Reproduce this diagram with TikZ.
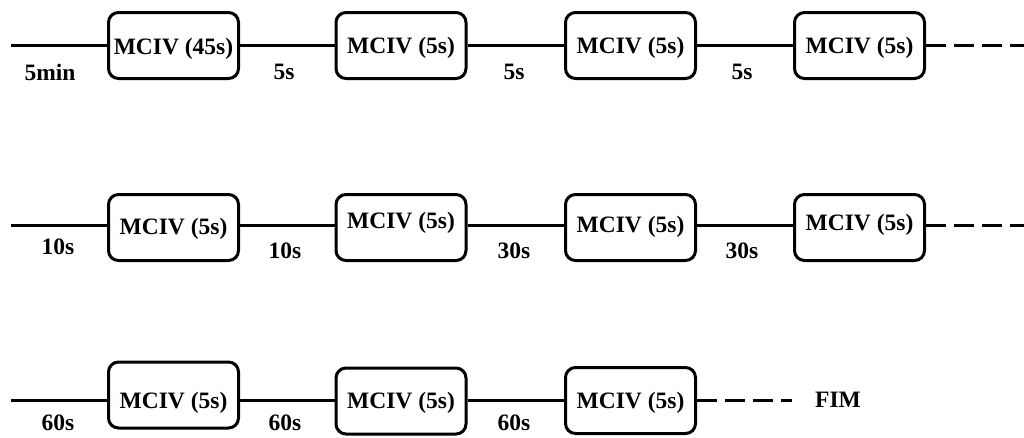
\documentclass[tikz,border=0pt]{standalone}
\usepackage{fontspec}
\setmainfont{Liberation Serif}
\newcommand\shiftedtext[2]{\raisebox{#1}[\height][\depth]{#2}}
\begin{document}
\begin{tikzpicture}[x=1pt,y=-1pt,
  box/.style={draw,line width=3pt,rounded corners=10pt,minimum width=130pt,minimum height=66pt,inner sep=0pt,font=\fontsize{23.5}{28}\selectfont\bfseries},
  lbl/.style={inner sep=0pt,font=\fontsize{23.5}{28}\selectfont\bfseries},
  conn/.style={line width=3pt},
  dconn/.style={line width=3pt,dash pattern=on 20pt off 8pt}]
\useasboundingbox (0,0) rectangle (1024,437);
% row 1
\coordinate (s1) at (11,45);
\coordinate (e1) at (1024,45);
\node[box] (b11) at (173.5,45.5) {\shiftedtext{-3pt}{MCIV (45s)}};
\node[box] (b12) at (401,45.5) {\shiftedtext{-2pt}{MCIV (5s)}};
\node[box] (b13) at (630.5,45.5) {\shiftedtext{-2pt}{MCIV (5s)}};
\node[box] (b14) at (859.5,45.5) {\shiftedtext{-2pt}{MCIV (5s)}};
\draw[conn] (s1) -- (s1 -| b11.west);
\draw[conn] (b11.east |- s1) -- (b12.west |- s1);
\draw[conn] (b12.east |- s1) -- (b13.west |- s1);
\draw[conn] (b13.east |- s1) -- (b14.west |- s1);
\draw[dconn] (b14.east |- s1) -- (e1);
\node[lbl] (l11) at (50,72) {5min};
\node[lbl] (l12) at (284,72) {5s};
\node[lbl] (l13) at (514,72) {5s};
\node[lbl] (l14) at (742,72) {5s};
% row 2
\coordinate (s2) at (11,225);
\coordinate (e2) at (1024,225);
\node[box] (b21) at (173.5,227.5) {\shiftedtext{-1pt}{MCIV (5s)}};
\node[box] (b22) at (401,227.5) {\shiftedtext{4.8pt}{MCIV (5s)}};
\node[box] (b23) at (630.5,227.5) {\shiftedtext{1pt}{MCIV (5s)}};
\node[box] (b24) at (859.5,227.5) {\shiftedtext{3pt}{MCIV (5s)}};
\draw[conn] (s2) -- (s2 -| b21.west);
\draw[conn] (b21.east |- s2) -- (b22.west |- s2);
\draw[conn] (b22.east |- s2) -- (b23.west |- s2);
\draw[conn] (b23.east |- s2) -- (b24.west |- s2);
\draw[dconn] (b24.east |- s2) -- (e2);
\node[lbl] (l21) at (58,247) {10s};
\node[lbl] (l22) at (285,251) {10s};
\node[lbl] (l23) at (514,251) {30s};
\node[lbl] (l24) at (742,251) {30s};
% row 3
\coordinate (s3) at (11,400);
\coordinate (e3) at (792,400);
\node[box] (b31) at (173.5,395) {\shiftedtext{-7.7pt}{MCIV (5s)}};
\node[box] (b32) at (401,401) {\shiftedtext{-1.7pt}{MCIV (5s)}};
\node[box] (b33) at (630.5,400.5) {\shiftedtext{-2.2pt}{MCIV (5s)}};
\draw[conn] (s3) -- (s3 -| b31.west);
\draw[conn] (b31.east |- s3) -- (b32.west |- s3);
\draw[conn] (b32.east |- s3) -- (b33.west |- s3);
\draw[dconn] (b33.east |- s3) -- (e3);
\node[lbl] (l31) at (58,423) {60s};
\node[lbl] (l32) at (285,423) {60s};
\node[lbl] (l33) at (514,423) {60s};
\node[lbl] (fim) at (838,400) {FIM};
\end{tikzpicture}
\end{document}
